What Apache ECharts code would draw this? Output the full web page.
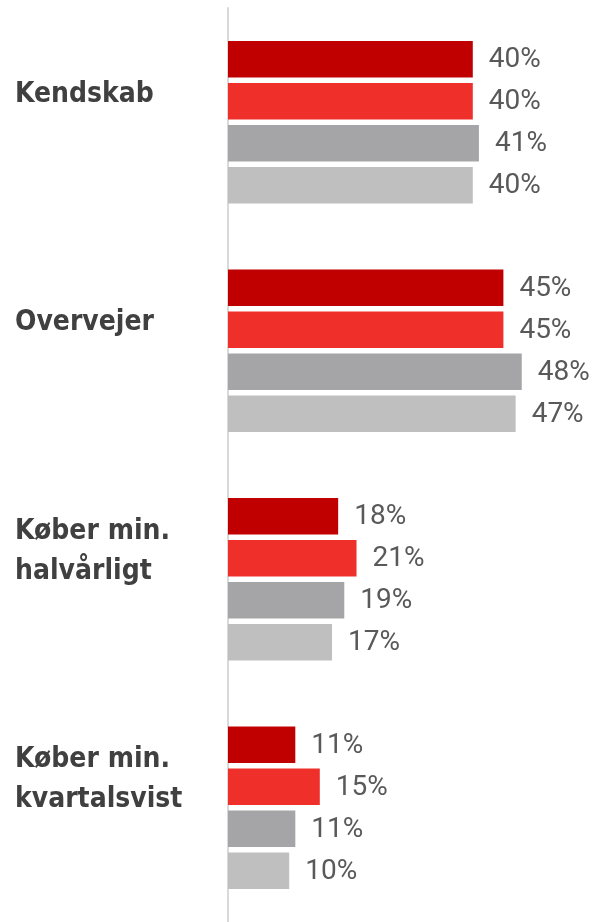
<!DOCTYPE html>
<html>
<head>
<meta charset="utf-8">
<script src="https://cdn.jsdelivr.net/npm/echarts@6/dist/echarts.min.js"></script>
<style>
html,body{margin:0;padding:0;background:#fff;}
#chart{width:592px;height:922px;}
</style>
</head>
<body>
<div id="chart"></div>
<script>
const categories = ['Kendskab', 'Overvejer', 'Køber min.\nhalvårligt', 'Køber min.\nkvartalsvist'];
const seriesNames = ['Serie 1', 'Serie 2', 'Serie 3', 'Serie 4'];
const serie1 = [40, 45, 18, 11];
const serie2 = [40, 45, 21, 15];
const serie3 = [41, 48, 19, 11];
const serie4 = [40, 47, 17, 10];
const seriesColors = ['#c00000', '#ef2f2a', '#a5a5a8', '#bfbfbf'];

const allValues = [serie1, serie2, serie3, serie4];

const chart = echarts.init(document.getElementById('chart'), null, {renderer: 'canvas'});

const series = allValues.map((vals, i) => ({
  name: seriesNames[i],
  type: 'bar',
  data: vals,
  barWidth: 36.5,
  barGap: '15%',
  itemStyle: { color: seriesColors[i] },
  label: {
    show: true,
    position: 'right',
    distance: 16,
    offset: [0, 1],
    formatter: p => p.value + '%',
    fontFamily: 'Roboto, "Liberation Sans", sans-serif',
    fontSize: 28,
    color: '#595959'
  }
}));

const catFont = '"DejaVu Sans Condensed", "Liberation Sans", sans-serif';

chart.setOption({
  animation: false,
  backgroundColor: '#ffffff',
  grid: { left: 228, top: 8, width: 306, height: 920, containLabel: false },
  xAxis: {
    type: 'value', min: 0, max: 50,
    show: false
  },
  yAxis: {
    type: 'category',
    data: categories,
    inverse: true,
    offset: 1,
    axisLine: { show: true, lineStyle: { color: '#d9d9d9', width: 2 } },
    axisTick: { show: false },
    splitLine: { show: false },
    axisLabel: {
      align: 'left',
      margin: 212,
      formatter: v => v.split('\n').map(l => '{a|' + l + '}').join('\n') + '\n{sp| }',
      rich: {
        a: {
          fontFamily: catFont,
          fontWeight: 'bold',
          fontSize: 28,
          lineHeight: 40,
          color: '#404040'
        },
        sp: {
          fontSize: 10,
          lineHeight: 56
        }
      }
    }
  },
  series: series
});
</script>
</body>
</html>
